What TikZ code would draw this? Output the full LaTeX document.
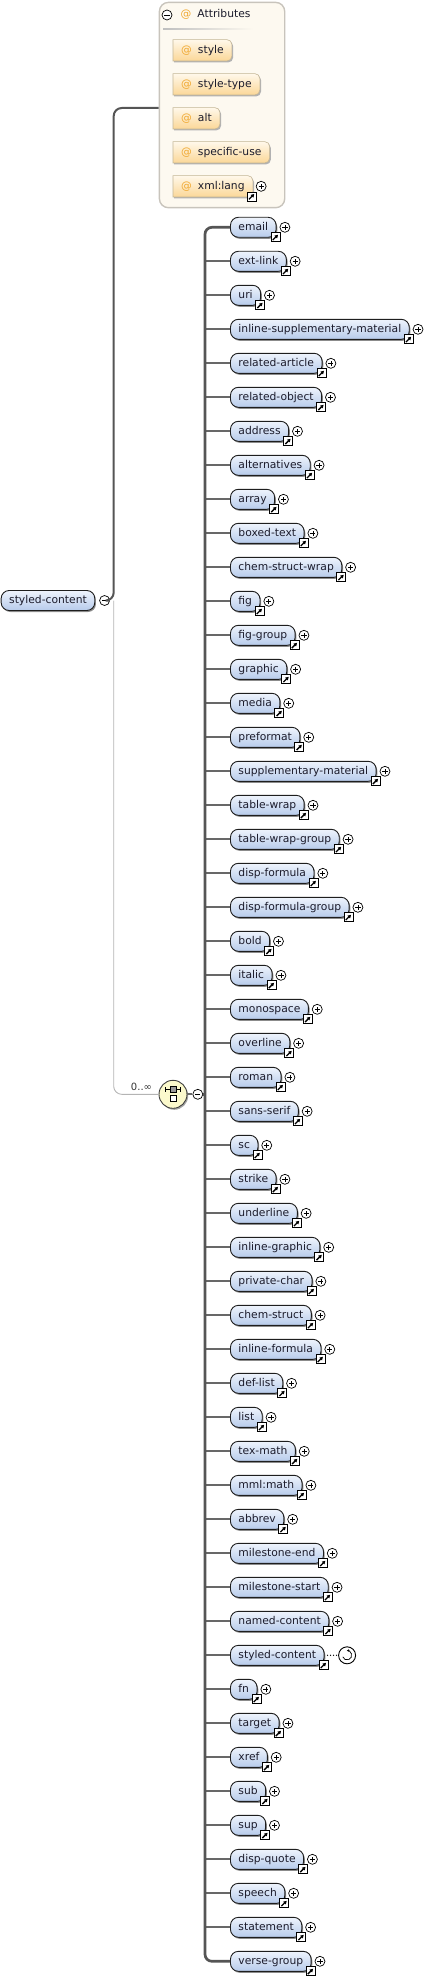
\documentclass[tikz,border=0pt]{standalone}
\usepackage{fontspec}
\setmainfont{DejaVu Sans}
\usetikzlibrary{positioning,shadows,arrows.meta}

\definecolor{pilltop}{HTML}{EEF3FC}
\definecolor{pillbot}{HTML}{B7CBEB}
\definecolor{pillline}{HTML}{1E1E1E}
\definecolor{txt}{HTML}{1C1C2C}
\definecolor{attop}{HTML}{FFF8EA}
\definecolor{atbot}{HTML}{FBD797}
\definecolor{atline}{HTML}{C4B696}
\definecolor{atorange}{HTML}{F0A830}
\definecolor{boxfill}{HTML}{FDF9F0}
\definecolor{boxline}{HTML}{C8C4BC}
\definecolor{seqfill}{HTML}{FBF9CC}
\definecolor{busgray}{HTML}{555555}
\definecolor{brgray}{HTML}{686868}
\definecolor{thingray}{HTML}{B4B4B4}

\pgfdeclarelayer{back}
\pgfsetlayers{back,main}

\newcommand\elemfont{\fontsize{10.75}{12}\selectfont}

\tikzset{
  elem/.style={draw=pillline, line width=0.9pt, rounded corners=8pt,
    top color=pilltop, bottom color=pillbot, minimum height=20pt,
    inner xsep=8pt, inner ysep=0pt, text height=8pt, text depth=2.5pt,
    anchor=west, font=\elemfont, text=txt,
    drop shadow={shadow xshift=1.2pt, shadow yshift=-1.5pt, fill=black!45, opacity=1}},
  attr/.style={minimum height=21pt, inner xsep=8pt, inner ysep=0pt,
    text height=8pt, text depth=2.5pt, anchor=west, font=\elemfont, text=txt},
  attrshape/.style={top color=attop, bottom color=atbot, draw=atline, line width=0.6pt,
    drop shadow={shadow xshift=1.2pt, shadow yshift=-1.5pt, fill=black!30, opacity=1}},
  attrbox/.style={draw=boxline, line width=1.4pt, fill=boxfill, rounded corners=9pt,
    anchor=north west, inner sep=0pt},
  linkbox/.style={draw=black, line width=0.8pt, fill=white, minimum size=9pt, inner sep=0pt,
    path picture={\draw[line width=1.3pt, -{Latex[length=3.4pt,width=4.2pt]}]
      ([shift={(-2.8pt,-2.8pt)}]path picture bounding box.center) --
      ([shift={(2.6pt,2.6pt)}]path picture bounding box.center);}},
  plusc/.style={circle, draw=black, line width=0.7pt, fill=white, minimum size=10pt, inner sep=0pt,
    path picture={\draw[line width=0.7pt]
      ([xshift=-2.6pt]path picture bounding box.center) -- ([xshift=2.6pt]path picture bounding box.center)
      ([yshift=-2.6pt]path picture bounding box.center) -- ([yshift=2.6pt]path picture bounding box.center);}},
  minusc/.style={circle, draw=black, line width=0.7pt, fill=white, minimum size=10pt, inner sep=0pt,
    path picture={\draw[line width=0.8pt]
      ([xshift=-2.6pt]path picture bounding box.center) -- ([xshift=2.6pt]path picture bounding box.center);}},
  recur/.style={circle, draw=black, line width=0.9pt, fill=white, minimum size=17pt, inner sep=0pt,
    path picture={\draw[line width=0.7pt, -{Latex[length=2.4pt,width=2.8pt]}]
      ([shift={(200:4.6pt)}]path picture bounding box.center)
      arc[start angle=200, end angle=455, radius=4.6pt];}},
  recdots/.style={line width=1.4pt, dash pattern=on 0pt off 3pt, line cap=round},
  seqc/.style={circle, draw=black!75, line width=0.9pt, fill=seqfill, minimum size=28pt, inner sep=0pt,
    drop shadow={shadow xshift=1.2pt, shadow yshift=-1.5pt, fill=black!35, opacity=1}},
  trunk/.style={draw=busgray, line width=2pt, rounded corners=8pt},
  thinline/.style={draw=thingray, line width=0.9pt, rounded corners=8pt},
  busline/.style={draw=busgray, line width=2.7pt, rounded corners=7pt},
  branch/.style={draw=brgray, line width=2pt},
  mult/.style={font=\fontsize{10}{12}\selectfont, text=black!80, inner sep=0pt}
}

\begin{document}
\begin{tikzpicture}[x=1pt, y=1pt]
\useasboundingbox (0,0) rectangle (443,-1977);

% attributes
\begin{pgfonlayer}{back}
\node[attrbox, minimum width=125.3pt, minimum height=205.3pt] (attrs) at (158.7,-1.7) {};
\end{pgfonlayer}
\node[minusc] (am) at (167,-15) {};
\node[attr, inner xsep=0pt] (ahead) at (180.5,-15) {{\color{atorange}@}\hspace{6pt}Attributes};
\shade[left color=black!25, right color=boxfill] (163,-28.3) rectangle (253,-29.8);
\foreach \nm [count=\i] in {style, style-type, alt, specific-use, xml:lang}
  \node[attr] (a\i) at (173,{-50.3-34*(\i-1)}) {{\color{atorange}@}\hspace{6pt}\nm};
\begin{pgfonlayer}{back}
\foreach \i in {1,...,5}
  \path[attrshape] (a\i.north west) -- ([xshift=-5pt]a\i.north east)
    arc[start angle=90, end angle=0, radius=5pt] -- ([yshift=5pt]a\i.south east)
    arc[start angle=0, end angle=-90, radius=5pt] -- (a\i.south west) -- cycle;
\end{pgfonlayer}
\node[linkbox] (al) at ([xshift=-1pt,yshift=0.5pt]a5.south east) {};
\node[plusc, right=3pt of a5] (ap) {};

% root
\node[elem] (root) at (0.7,-600.5) {styled-content};
\node[minusc, right=4pt of root] (rootm) {};
\coordinate (spine) at (113.7,-600.5);
\coordinate (boxin) at (158.7,-108);

% sequence
\node[seqc] (seq) at (173,-1094.3) {};
\draw[line width=0.8pt] (165.5,-1089.3) -- (180.5,-1089.3)
  (165.5,-1087) -- (165.5,-1091.6) (180.5,-1087) -- (180.5,-1091.6);
\draw[fill=black!40, line width=0.5pt] (170,-1086.5) rectangle (176,-1092.2);
\draw[fill=white, line width=0.7pt] (170,-1095.7) rectangle (176,-1101.7);
\node[minusc, right=5pt of seq] (seqm) {};
\node[mult] (card) at (141.5,-1087) {0..∞};
\coordinate (bus) at (205,-1094.3);

\draw[thinline] (spine) |- (seq.west);
\draw[trunk] (rootm.east) -- (spine) |- (boxin);
\draw[branch] (seq.east) -- (seqm.west);
\draw[busline] (seqm.east) -- (bus);

% children
\foreach \nm [count=\i] in {email, ext-link, uri, inline-supplementary-material,
  related-article, related-object, address, alternatives, array, boxed-text,
  chem-struct-wrap, fig, fig-group, graphic, media, preformat,
  supplementary-material, table-wrap, table-wrap-group, disp-formula,
  disp-formula-group, bold, italic, monospace, overline, roman, sans-serif, sc,
  strike, underline, inline-graphic, private-char, chem-struct, inline-formula,
  def-list, list, tex-math, mml:math, abbrev, milestone-end, milestone-start,
  named-content, styled-content, fn, target, xref, sub, sup, disp-quote, speech,
  statement, verse-group} {
  \node[elem] (c\i) at (230,{-227.3-34*(\i-1)}) {\nm};
  \node[linkbox] (l\i) at ([xshift=-1pt,yshift=0.5pt]c\i.south east) {};
  \ifnum\i=43
    \node[recur, right=13.6pt of c\i] (r\i) {};
    \draw[recdots] ([xshift=3pt]c\i.east) -- (r\i.west);
  \else
    \node[plusc, right=3pt of c\i] (p\i) {};
  \fi
}
\foreach \i in {2,...,51}
  \draw[branch] (c\i.west -| bus) -- (c\i.west);
\draw[busline] (c1.west) -| (bus) |- (c52.west);

\end{tikzpicture}
\end{document}
